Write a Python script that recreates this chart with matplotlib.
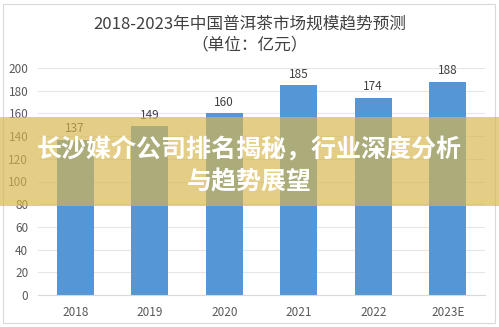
import matplotlib
matplotlib.use("Agg")
import matplotlib.pyplot as plt
from matplotlib.patches import Rectangle

plt.rcParams['font.family'] = ['Noto Sans CJK SC', 'DejaVu Sans']

categories = ["2018", "2019", "2020", "2021", "2022", "2023E"]
values = [137, 149, 160, 185, 174, 188]
yticks = [0, 20, 40, 60, 80, 100, 120, 140, 160, 180, 200]
title_line1 = "2018-2023年中国普洱茶市场规模趋势预测"
title_line2 = "（单位：亿元）"
banner_line1 = "长沙媒介公司排名揭秘，行业深度分析"
banner_line2 = "与趋势展望"

W, H = 499, 327
fig = plt.figure(figsize=(W / 100, H / 100), dpi=100)
fig.patch.set_facecolor("white")

ax = fig.add_axes([38 / W, 1 - 295 / H, (485 - 38) / W, (295 - 68) / H])
x = list(range(len(categories)))
ax.bar(x, values, width=0.5, color="#5596d6", zorder=2)
for xi, v in zip(x, values):
    ax.annotate(str(v), (xi, v), xytext=(0, 3), textcoords="offset points",
                ha="center", va="bottom", fontsize=8.5, color="#404040")
ax.set_xlim(-0.5, len(categories) - 0.5)
ax.set_ylim(0, 200)
ax.set_yticks(yticks)
ax.set_yticklabels([str(t) for t in yticks])
ax.set_xticks(x)
ax.set_xticklabels(categories)
ax.tick_params(axis="both", length=0, labelsize=8.5, labelcolor="#595959")
ax.tick_params(axis="x", pad=8)
ax.tick_params(axis="y", pad=7)
ax.grid(axis="y", color="#e6e6e6", linewidth=0.8, zorder=0)
for s in ["top", "right", "left"]:
    ax.spines[s].set_visible(False)
ax.spines["bottom"].set_color("#d9d9d9")

fig.text(0.5, 1 - 24 / H, title_line1, ha="center", va="center",
         fontsize=12, color="#404040")
fig.text(0.5, 1 - 45 / H, title_line2, ha="center", va="center",
         fontsize=12, color="#404040")

# border of the chart area
fig.patches.append(Rectangle((3 / W, 4 / H), (495 - 3) / W, (323 - 4) / H,
                             transform=fig.transFigure, fill=False,
                             edgecolor="#d9d9d9", linewidth=0.8))

# overlay banner
fig.patches.append(Rectangle((0, 1 - 206 / H), 1, (206 - 117) / H,
                             transform=fig.transFigure, facecolor="#d7b74c",
                             alpha=0.67, edgecolor="none", zorder=5))
fig.text(0.5, 1 - 150 / H, banner_line1, ha="center", va="center",
         fontsize=18, fontweight="bold", color="white", zorder=6)
fig.text(0.5, 1 - 182 / H, banner_line2, ha="center", va="center",
         fontsize=18, fontweight="bold", color="white", zorder=6)

fig.savefig("out.png", dpi=100)
